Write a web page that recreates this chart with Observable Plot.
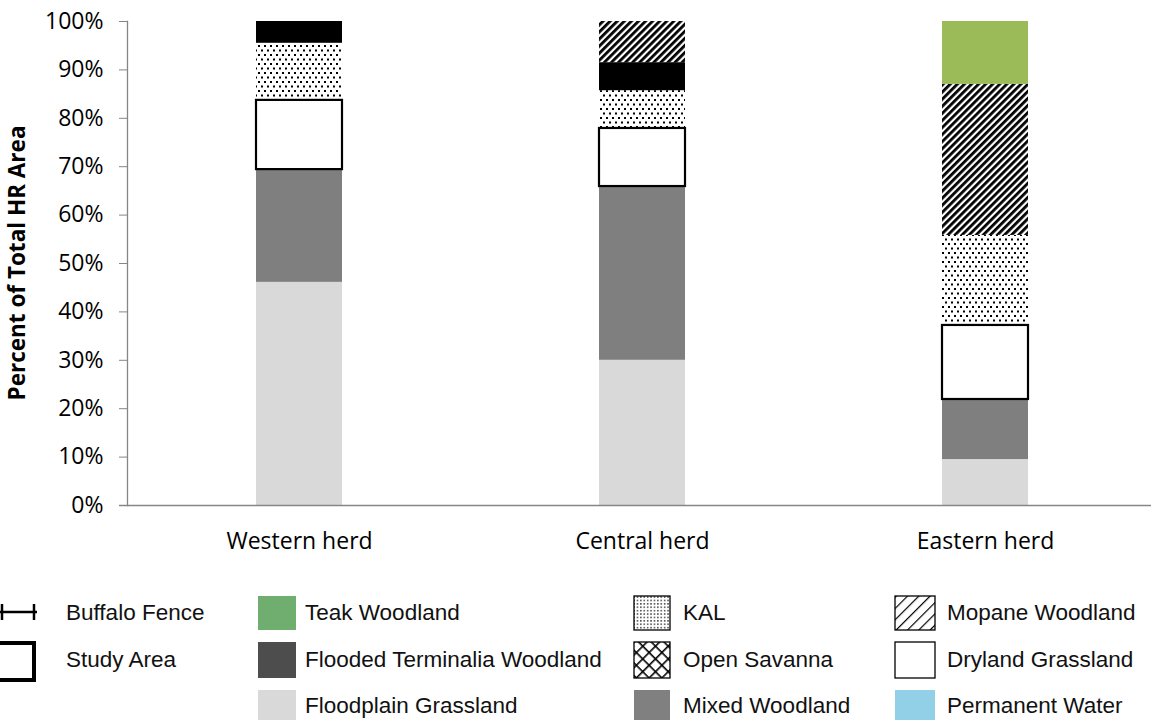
<!DOCTYPE html>
<html>
<head>
<meta charset="utf-8">
<script src="https://cdn.jsdelivr.net/npm/d3@7"></script>
<script src="https://cdn.jsdelivr.net/npm/@observablehq/plot@0.6"></script>
<style>
  html, body { margin: 0; padding: 0; background: #fff; }
  svg { display: block; }
</style>
</head>
<body>
<div id="chart"></div>
<div id="legend"></div>
<script>
// ---- data ----
const herds = ["Western herd", "Central herd", "Eastern herd"];
const categories = ["Floodplain Grassland", "Mixed Woodland", "Dryland Grassland", "KAL", "Flooded Terminalia Woodland", "Mopane Woodland", "Teak Woodland"];
const floodplainGrassland = [46.1, 30.0, 9.5];
const mixedWoodland = [23.3, 35.9, 12.4];
const drylandGrassland = [14.3, 12.0, 15.3];
const kal = [11.8, 7.8, 18.6];
const floodedTerminalia = [4.5, 5.8, 0];
const mopaneWoodland = [0, 8.5, 31.2];
const teakWoodland = [0, 0, 13.0];
const series = [floodplainGrassland, mixedWoodland, drylandGrassland, kal, floodedTerminalia, mopaneWoodland, teakWoodland];
const yTicks = [0, 10, 20, 30, 40, 50, 60, 70, 80, 90, 100];
const legendCol1 = ["Buffalo Fence", "Study Area"];
const legendCol2 = ["Teak Woodland", "Flooded Terminalia Woodland", "Floodplain Grassland"];
const legendCol3 = ["KAL", "Open Savanna", "Mixed Woodland"];
const legendCol4 = ["Mopane Woodland", "Dryland Grassland", "Permanent Water"];

const barFill = {
  "Floodplain Grassland": "#d9d9d9",
  "Mixed Woodland": "#7f7f7f",
  "Dryland Grassland": "#ffffff",
  "KAL": "url(#pKal)",
  "Flooded Terminalia Woodland": "#000000",
  "Mopane Woodland": "url(#pMopane)",
  "Teak Woodland": "#9bbb59"
};

const data = [];
categories.forEach((c, i) => herds.forEach((h, j) => data.push({herd: h, cat: c, value: series[i][j]})));

const chart = Plot.plot({
  width: 1151,
  height: 575,
  marginLeft: 127,
  marginRight: 0,
  marginTop: 21,
  marginBottom: 70,
  style: {fontFamily: "'Open Sans', sans-serif", fontSize: "23px", color: "#000", background: "#fff", overflow: "visible"},
  x: {domain: herds, range: [127, 1156], paddingInner: 0.75, paddingOuter: 0.375, label: null},
  y: {domain: [0, 100], label: null},
  color: {type: "identity"},
  marks: [
    Plot.barY(data, {x: "herd", y: "value", fill: d => barFill[d.cat]}),
    Plot.barY(data, {x: "herd", y: "value", fill: "none", stroke: d => d.cat === "Dryland Grassland" ? "#000" : "none", strokeWidth: 2.2}),
    Plot.axisY({ticks: yTicks, tickSize: 8, tickPadding: 16, stroke: "#868686", fill: "#000", tickFormat: d => d + "%", label: null}),
    Plot.axisX({tickSize: 0, tickPadding: 27, fill: "#000", label: null}),
    Plot.frame({anchor: "left", stroke: "#868686", strokeWidth: 1.3}),
    Plot.ruleY([0], {stroke: "#868686", strokeWidth: 1.3, insetLeft: -8})
  ]
});

const svg = d3.select(chart);
const defs = svg.insert("defs", ":first-child");
const pk = defs.append("pattern").attr("id", "pKal").attr("patternUnits", "userSpaceOnUse")
  .attr("width", 6).attr("height", 9);
pk.append("rect").attr("width", 6).attr("height", 9).attr("fill", "#fff");
pk.append("rect").attr("x", 0).attr("y", 0).attr("width", 2).attr("height", 2).attr("fill", "#000");
pk.append("rect").attr("x", 3).attr("y", 4.5).attr("width", 2).attr("height", 2).attr("fill", "#000");
const pm = defs.append("pattern").attr("id", "pMopane").attr("patternUnits", "userSpaceOnUse")
  .attr("width", 5).attr("height", 10).attr("patternTransform", "rotate(45)");
pm.append("rect").attr("width", 5).attr("height", 10).attr("fill", "#fff");
pm.append("rect").attr("width", 2.8).attr("height", 10).attr("fill", "#000");

// y-axis title
svg.append("text")
  .attr("transform", "translate(25,263) rotate(-90)")
  .attr("text-anchor", "middle")
  .attr("font-family", "'Open Sans', sans-serif")
  .attr("font-weight", "bold")
  .attr("font-size", 22.5)
  .attr("fill", "#000")
  .text("Percent of Total HR Area");

document.getElementById("chart").appendChild(chart);

// ---- legend ----
const oy = 575;
const lg = d3.select("#legend").append("svg").attr("width", 1151).attr("height", 145)
  .style("font-family", "'Liberation Sans', Arial, sans-serif").style("font-size", "22.5px");
const ld = lg.append("defs");
const lk = ld.append("pattern").attr("id", "lKal").attr("patternUnits", "userSpaceOnUse").attr("width", 3.4).attr("height", 3.4);
lk.append("rect").attr("width", 3.4).attr("height", 3.4).attr("fill", "#fff");
lk.append("rect").attr("x", 1).attr("y", 1).attr("width", 1.3).attr("height", 1.3).attr("fill", "#000");
const ls = ld.append("pattern").attr("id", "lSav").attr("patternUnits", "userSpaceOnUse").attr("width", 9).attr("height", 9)
  .attr("patternTransform", "rotate(45)");
ls.append("rect").attr("width", 9).attr("height", 9).attr("fill", "#fff");
ls.append("rect").attr("width", 1.6).attr("height", 9).attr("fill", "#000");
ls.append("rect").attr("width", 9).attr("height", 1.6).attr("fill", "#000");
const lmop = ld.append("pattern").attr("id", "lMop").attr("patternUnits", "userSpaceOnUse").attr("width", 8).attr("height", 8)
  .attr("patternTransform", "rotate(45)");
lmop.append("rect").attr("width", 8).attr("height", 8).attr("fill", "#fff");
lmop.append("rect").attr("width", 1.2).attr("height", 8).attr("fill", "#000");

const rowsY = [596, 642, 690];
const rowsH = [34, 36, 34];
const textY = [612, 659, 705];

function label(x, y, t) {
  lg.append("text").attr("x", x).attr("y", y - oy).attr("dy", "0.35em").attr("fill", "#111").text(t);
}
// col 1
lg.append("line").attr("x1", 0).attr("x2", 37).attr("y1", 612 - oy).attr("y2", 612 - oy).attr("stroke", "#000").attr("stroke-width", 2.5);
lg.append("line").attr("x1", 2).attr("x2", 2).attr("y1", 604 - oy).attr("y2", 620 - oy).attr("stroke", "#000").attr("stroke-width", 2.5);
lg.append("line").attr("x1", 34).attr("x2", 34).attr("y1", 604 - oy).attr("y2", 620 - oy).attr("stroke", "#000").attr("stroke-width", 2.5);
lg.append("rect").attr("x", -3).attr("y", 643 - oy).attr("width", 37).attr("height", 37).attr("fill", "#fff").attr("stroke", "#000").attr("stroke-width", 4);
label(66, textY[0], legendCol1[0]);
label(66, textY[1], legendCol1[1]);
// col 2
const col2Fill = ["#6fae6f", "#4d4d4d", "#d9d9d9"];
legendCol2.forEach((t, i) => {
  lg.append("rect").attr("x", 258).attr("y", rowsY[i] - oy).attr("width", 38).attr("height", rowsH[i] + (i === 2 ? 10 : 0)).attr("fill", col2Fill[i]);
  label(305, textY[i], t);
});
// col 3
const col3Fill = ["url(#lKal)", "url(#lSav)", "#808080"];
legendCol3.forEach((t, i) => {
  const r = lg.append("rect").attr("x", 634).attr("y", rowsY[i] - oy).attr("width", 36).attr("height", rowsH[i] + (i === 2 ? 10 : 0)).attr("fill", col3Fill[i]);
  if (i < 2) r.attr("stroke", "#000").attr("stroke-width", 1.3);
  label(683, textY[i], t);
});
// col 4
const col4Fill = ["url(#lMop)", "#ffffff", "#92d0e8"];
legendCol4.forEach((t, i) => {
  const r = lg.append("rect").attr("x", 895).attr("y", rowsY[i] - oy).attr("width", 40).attr("height", rowsH[i] + (i === 2 ? 10 : 0)).attr("fill", col4Fill[i]);
  if (i < 2) r.attr("stroke", "#000").attr("stroke-width", 1.3);
  label(947, textY[i], t);
});
</script>
</body>
</html>
